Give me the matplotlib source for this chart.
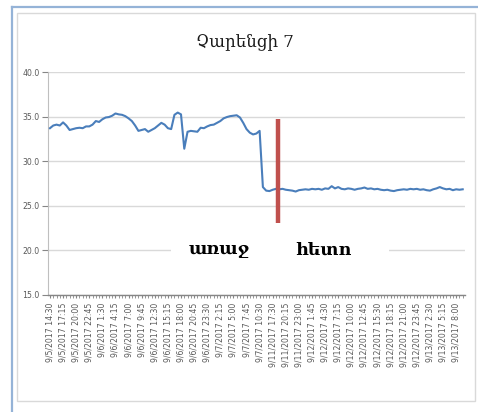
import matplotlib.pyplot as plt
from matplotlib.patches import Rectangle
from matplotlib.lines import Line2D
import numpy as np

# temperature readings (one every 41.25 min, labels every 4th point)
temps = [33.7, 34.0, 34.1, 34.0, 34.35, 34.0, 33.5, 33.6, 33.7, 33.75,
         33.7, 33.9, 33.9, 34.1, 34.5, 34.4, 34.7, 34.9, 34.95, 35.1,
         35.35, 35.25, 35.2, 35.05, 34.8, 34.5, 34.0, 33.4, 33.5, 33.6,
         33.3, 33.5, 33.7, 34.0, 34.3, 34.1, 33.7, 33.6, 35.2, 35.45,
         35.25, 31.4, 33.3, 33.4, 33.35, 33.3, 33.75, 33.7, 33.9, 34.05,
         34.1, 34.3, 34.5, 34.8, 34.95, 35.05, 35.1, 35.15, 34.9, 34.3,
         33.6, 33.2, 33.0, 33.1, 33.4, 27.1, 26.7, 26.65, 26.8, 26.9,
         26.85, 26.9, 26.8, 26.75, 26.7, 26.6, 26.75, 26.8, 26.85, 26.8,
         26.9, 26.85, 26.9, 26.8, 26.95, 26.9, 27.2, 26.95, 27.1, 26.9,
         26.85, 26.95, 26.9, 26.8, 26.9, 26.95, 27.05, 26.9, 26.95, 26.85,
         26.9, 26.8, 26.75, 26.8, 26.7, 26.65, 26.75, 26.8, 26.85, 26.8,
         26.9, 26.85, 26.9, 26.8, 26.85, 26.75, 26.7, 26.85, 26.95, 27.1,
         26.95, 26.85, 26.9, 26.75, 26.85, 26.8, 26.85]

tick_labels = ["9/5/2017 14:30", "9/5/2017 17:15", "9/5/2017 20:00", "9/5/2017 22:45",
               "9/6/2017 1:30", "9/6/2017 4:15", "9/6/2017 7:00", "9/6/2017 9:45",
               "9/6/2017 12:30", "9/6/2017 15:15", "9/6/2017 18:00", "9/6/2017 20:45",
               "9/6/2017 23:30", "9/7/2017 2:15", "9/7/2017 5:00", "9/7/2017 7:45",
               "9/7/2017 10:30", "9/11/2017 17:30", "9/11/2017 20:15", "9/11/2017 23:00",
               "9/12/2017 1:45", "9/12/2017 4:30", "9/12/2017 7:15", "9/12/2017 10:00",
               "9/12/2017 12:45", "9/12/2017 15:30", "9/12/2017 18:15", "9/12/2017 21:00",
               "9/12/2017 23:45", "9/13/2017 2:30", "9/13/2017 5:15", "9/13/2017 8:00"]
label_step = 4

title = "Չարենցի 7"
before_text = "առաջ"
after_text = "հետո"
split_pos = 69.5          # category position of the red marker
split_span = [23.1, 34.75]
before_pos = (51.6, 20.0)
after_pos = (83.4, 20.0)

fig = plt.figure(figsize=(4.78, 4.12), dpi=100)
W, H = 478, 412

# outer blue frame (left and top edges) and grey chart border
fig.add_artist(Line2D([11.5 / W, 11.5 / W], [0, 1 - 7 / H], color="#95B3D7", lw=1.6,
                      transform=fig.transFigure))
fig.add_artist(Line2D([11.5 / W, 1], [1 - 7 / H, 1 - 7 / H], color="#95B3D7", lw=1.6,
                      transform=fig.transFigure))
fig.add_artist(Rectangle((16.5 / W, 1 - 401 / H), 458 / W, 388 / H, fill=False,
                         ec="#D9D9D9", lw=1.0, transform=fig.transFigure))

ax = fig.add_axes([48 / W, 1 - 295 / H, 417 / W, 223 / H])
x = np.arange(len(temps))
ax.plot(x, temps, color="#4A7EBB", lw=1.5, zorder=3)
ax.plot([split_pos, split_pos], split_span, color="#C0504D", lw=3.2, solid_capstyle="butt", zorder=4)

ax.set_xlim(-0.6, 126.7)
ax.set_ylim(15, 40)
ax.set_yticks([15, 20, 25, 30, 35, 40])
ax.set_yticklabels([f"{v:.1f}" for v in [15, 20, 25, 30, 35, 40]])
ax.yaxis.grid(True, color="#D9D9D9", lw=1.0)
ax.set_axisbelow(True)

ax.set_xticks(x, minor=True)
ax.set_xticks(x[::label_step])
ax.set_xticklabels(tick_labels, rotation=90, fontsize=5.6, color="#595959")
ax.tick_params(axis="x", which="both", length=2.5, color="#868686", pad=3)
ax.tick_params(axis="y", length=4, color="#868686", labelsize=5.6, labelcolor="#595959", pad=2)

for s in ["top", "right"]:
    ax.spines[s].set_visible(False)
ax.spines["left"].set_color("#BFBFBF")
ax.spines["bottom"].set_color("#868686")
ax.spines["bottom"].set_linewidth(1.0)

# white text box covering the gridline behind the labels
fig.add_artist(Rectangle((171 / W, 1 - 263 / H), 218 / W, 26 / H, fc="white", ec="none",
                         transform=fig.transFigure, zorder=2))
fig.text(219 / W, 1 - 250 / H, before_text, ha="center", va="center", fontsize=12.5,
         fontweight="bold", family=["DejaVu Serif", "DejaVu Sans"], zorder=5)
fig.text(323 / W, 1 - 250 / H, after_text, ha="center", va="center", fontsize=12.5,
         fontweight="bold", family=["DejaVu Serif", "DejaVu Sans"], zorder=5)

fig.text(245 / W, 1 - 42 / H, title, ha="center", va="center", fontsize=12,
         family=["DejaVu Serif", "DejaVu Sans"], color="#1a1a1a")

fig.savefig("out.png", dpi=100)
